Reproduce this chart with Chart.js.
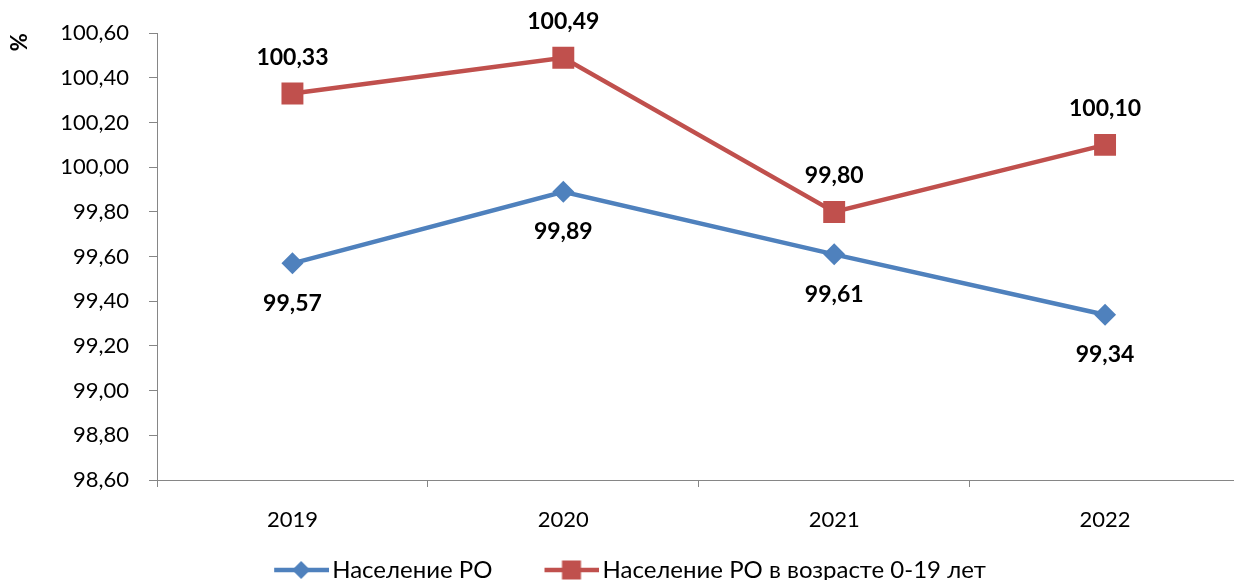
<!DOCTYPE html>
<html>
<head>
<meta charset="utf-8">
<script src="https://cdn.jsdelivr.net/npm/chart.js@4.4.0/dist/chart.umd.min.js"></script>
<style>
  html, body { margin: 0; padding: 0; background: #fff; overflow: hidden; }
  canvas { position: absolute; left: 0; top: 0; }
</style>
</head>
<body>
<canvas id="chart" width="1256" height="580"></canvas>
<script>
const years = ['2019', '2020', '2021', '2022'];
const popAll = [99.57, 99.89, 99.61, 99.34];
const popYoung = [100.33, 100.49, 99.80, 100.10];
const seriesNames = ['Население РО', 'Население РО в возрасте 0-19 лет'];

const BLUE = '#4f81bd';
const RED = '#c0504d';
const AXIS = '#868686';
const FONT = 'Lato, "Open Sans", sans-serif';

const fmt = v => v.toFixed(2).replace('.', ',');

// legend swatch: line with marker, transparent margin on the left
function swatch(color, shape) {
  const c = document.createElement('canvas');
  c.width = 116; c.height = 24;
  const g = c.getContext('2d');
  g.strokeStyle = color; g.fillStyle = color; g.lineWidth = 4.5;
  g.beginPath(); g.moveTo(61, 12); g.lineTo(116, 12); g.stroke();
  const cx = 88;
  if (shape === 'diamond') {
    g.beginPath(); g.moveTo(cx, 3); g.lineTo(cx + 9, 12); g.lineTo(cx, 21); g.lineTo(cx - 9, 12); g.closePath(); g.fill();
  } else {
    g.fillRect(cx - 9.5, 2.5, 19, 19);
  }
  return c;
}

const labelOffsets = [40, -36];

const dataLabels = {
  id: 'dataLabels',
  afterDatasetsDraw(chart) {
    const ctx = chart.ctx;
    ctx.save();
    ctx.font = 'bold 23px ' + FONT;
    ctx.fillStyle = '#000';
    ctx.textAlign = 'center';
    ctx.textBaseline = 'middle';
    chart.data.datasets.forEach((ds, i) => {
      chart.getDatasetMeta(i).data.forEach((pt, j) => {
        ctx.fillText(fmt(ds.data[j]), pt.x, pt.y + labelOffsets[i]);
      });
    });
    ctx.restore();
  }
};

new Chart(document.getElementById('chart'), {
  type: 'line',
  data: {
    labels: years,
    datasets: [{
      label: seriesNames[0],
      data: popAll,
      borderColor: BLUE,
      backgroundColor: BLUE,
      borderWidth: 4.5,
      pointStyle: 'rectRot',
      pointRadius: 11,
      pointBorderWidth: 0,
      pointBackgroundColor: BLUE,
      tension: 0
    }, {
      label: seriesNames[1],
      data: popYoung,
      borderColor: RED,
      backgroundColor: RED,
      borderWidth: 4.5,
      pointStyle: 'rect',
      pointRadius: 15.5,
      pointBorderWidth: 0,
      pointBackgroundColor: RED,
      tension: 0
    }]
  },
  options: {
    responsive: false,
    animation: false,
    layout: { padding: { left: -46, right: 2, top: 33, bottom: -12 } },
    plugins: {
      tooltip: { enabled: false },
      legend: {
        position: 'bottom',
        labels: {
          usePointStyle: true,
          pointStyleWidth: 98,
          padding: 0,
          color: '#000',
          font: { family: FONT, size: 24 },
          generateLabels(chart) {
            return chart.data.datasets.map((ds, i) => ({
              text: ds.label,
              datasetIndex: i,
              fontColor: '#000',
              pointStyle: swatch(ds.borderColor, i === 0 ? 'diamond' : 'square'),
              lineWidth: 0,
              hidden: false
            }));
          }
        }
      }
    },
    scales: {
      x: {
        offset: true,
        border: { color: AXIS, width: 1 },
        grid: { offset: true, drawOnChartArea: false, drawTicks: true, tickLength: 7, color: AXIS },
        ticks: { color: '#000', padding: 20, font: { family: FONT, size: 22 } },
        afterFit(s) { s.height = 78; }
      },
      y: {
        min: 98.6,
        max: 100.6,
        border: { color: AXIS, width: 1 },
        grid: { drawOnChartArea: false, drawTicks: true, tickLength: 8, color: AXIS },
        ticks: {
          stepSize: 0.2,
          color: '#000',
          padding: 20,
          font: { family: FONT, size: 22 },
          callback: v => fmt(v)
        },
        title: {
          display: true,
          text: '%',
          align: 'end',
          color: '#000',
          padding: { top: 53, bottom: 0 },
          font: { family: FONT, size: 22, weight: 'bold' }
        },
        afterFit(s) { s.width = 203; }
      }
    }
  },
  plugins: [dataLabels]
});
</script>
</body>
</html>
